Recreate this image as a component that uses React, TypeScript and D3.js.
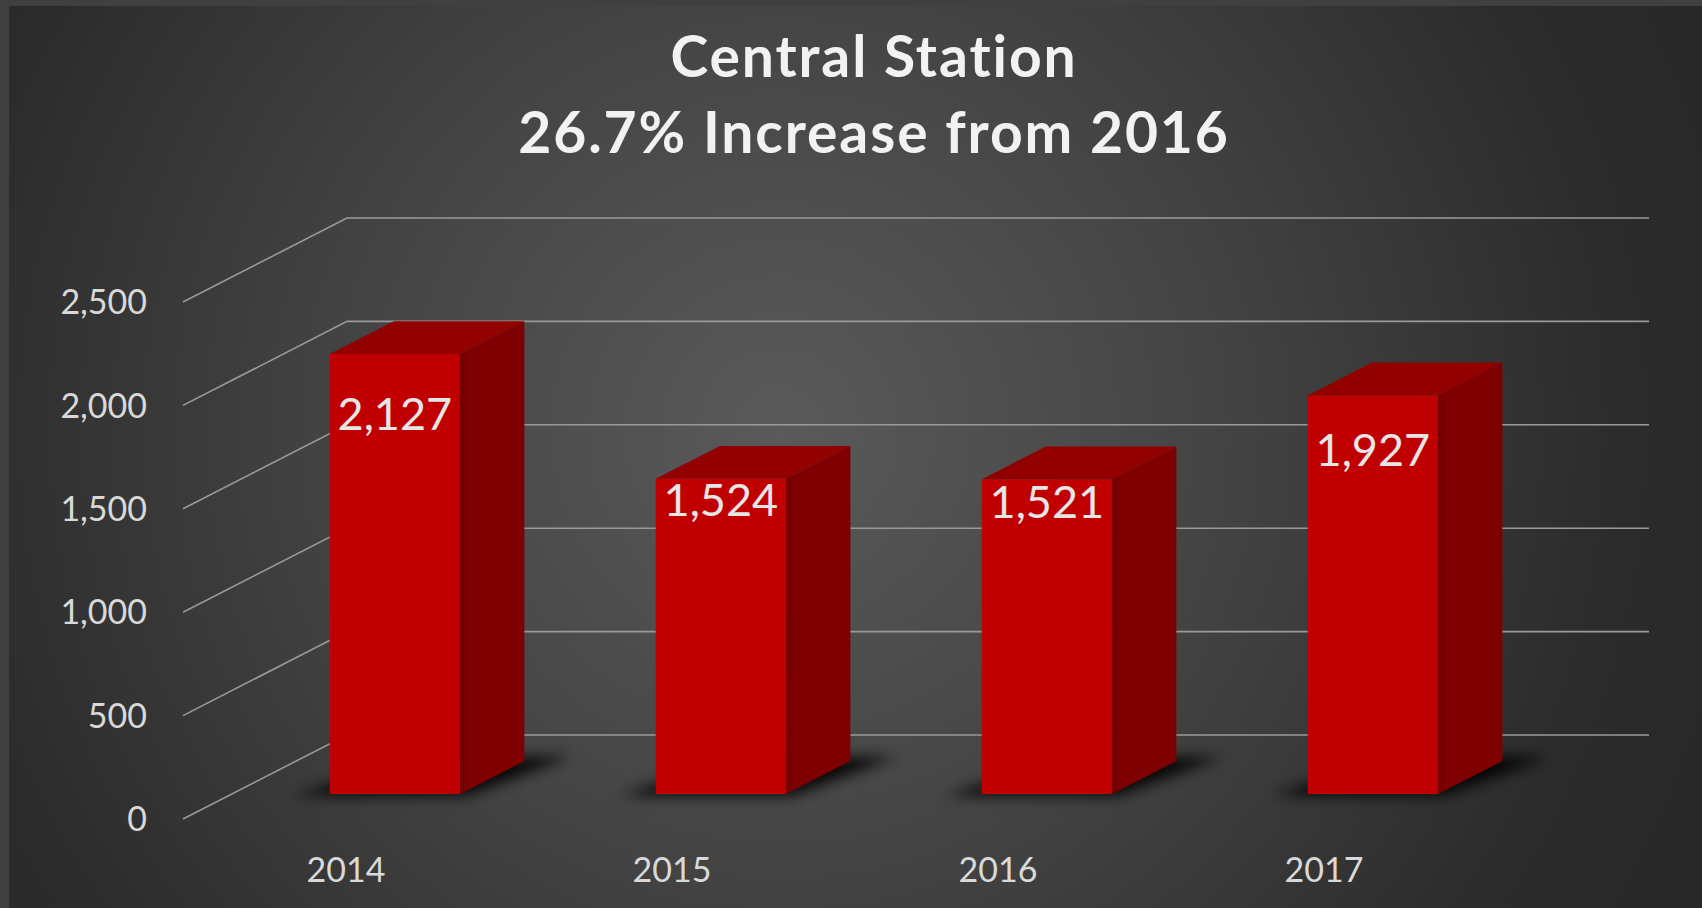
import React from "react";
import * as d3 from "d3";

const years = ["2014", "2015", "2016", "2017"];
const values = [2127, 1524, 1521, 1927];
const yTicks = [0, 500, 1000, 1500, 2000, 2500];
const titleLines = ["Central Station", "26.7% Increase from 2016"];

// layout constants
const W = 1702;
const H = 908;
const FLOOR_FRONT_Y = 819;
const DX = 164; // full depth x offset
const DY = 84; // full depth y offset
const D1 = 0.298; // bar front depth
const D2 = 0.69; // bar back depth
const labelBaselineDrop = [76, 37, 39, 71];

export default function App() {
  const x = d3
    .scaleBand<string>()
    .domain(years)
    .range([183, 1487])
    .paddingInner(0.6)
    .paddingOuter(0.3);
  const y = d3.scaleLinear().domain([0, 2500]).range([0, 517]);
  const fmt = d3.format(",");

  const proj = (u: number, v: number, d: number): [number, number] => [
    u + d * DX,
    FLOOR_FRONT_Y - y(v) - d * DY,
  ];
  const pts = (arr: [number, number][]) => arr.map((p) => p.join(",")).join(" ");

  const leftX = 183;
  const rightBackX = 1649;

  return (
    <div>
      <style>{"body{margin:0;background:#2a2a2a}"}</style>
      <svg width={W} height={H} style={{ display: "block" }} fontFamily="Lato, 'Open Sans', sans-serif">
        <defs>
          <radialGradient id="bg" gradientUnits="userSpaceOnUse" cx={780} cy={430} r={1000}>
            <stop offset="0" stopColor="#5a5a5a" />
            <stop offset="0.45" stopColor="#434343" />
            <stop offset="0.85" stopColor="#2b2b2b" />
            <stop offset="1" stopColor="#282828" />
          </radialGradient>
          <filter id="shadow" x="-50%" y="-50%" width="200%" height="200%">
            <feGaussianBlur stdDeviation="7" />
          </filter>
          <linearGradient id="side" x1="0" x2="1" y1="0" y2="0">
            <stop offset="0" stopColor="#700000" />
            <stop offset="0.12" stopColor="#7e0000" />
            <stop offset="1" stopColor="#7e0000" />
          </linearGradient>
        </defs>
        <rect x={0} y={0} width={W} height={H} fill="#404040" />
        <rect x={9} y={6} width={W - 9} height={H - 6} fill="url(#bg)" />

        {/* title */}
        {titleLines.map((t, i) => (
          <text
            key={t}
            x={874}
            y={77 + i * 76}
            textAnchor="middle"
            fontSize={57}
            fontWeight={700}
            letterSpacing={1.9}
            fill="#f2f2f2"
          >
            {t}
          </text>
        ))}

        {/* gridlines: side wall diagonals and back wall */}
        {yTicks.map((v) => {
          const front = proj(leftX, v, 0);
          const back = proj(leftX, v, 1);
          return (
            <g key={v} stroke="#9a9a9a" strokeWidth={1.6} fill="none">
              <polyline points={pts([front, back, [rightBackX, back[1]]])} />
            </g>
          );
        })}

        {/* y axis labels */}
        {yTicks.map((v) => (
          <text
            key={"t" + v}
            x={147}
            y={proj(leftX, v, 0)[1]}
            dy="0.36em"
            textAnchor="end"
            fontSize={34}
            fill="#d9d9d9"
          >
            {fmt(v)}
          </text>
        ))}

        {/* shadows */}
        {years.map((yr) => {
          const u0 = x(yr)!;
          const u1 = u0 + x.bandwidth();
          const p = [
            proj(u0 - 32, 0, D1 - 0.02),
            proj(u1 + 10, 0, D1 - 0.02),
            proj(u1 + 38, 0, D2 + 0.05),
            proj(u0 + 10, 0, D2 + 0.05),
          ] as [number, number][];
          return (
            <polygon key={"s" + yr} points={pts(p)} fill="#000" opacity={0.88} filter="url(#shadow)" />
          );
        })}

        {/* bars */}
        {years.map((yr, i) => {
          const v = values[i];
          const u0 = x(yr)!;
          const u1 = u0 + x.bandwidth();
          const front = [proj(u0, v, D1), proj(u1, v, D1), proj(u1, 0, D1), proj(u0, 0, D1)] as [number, number][];
          const top = [proj(u0, v, D1), proj(u1, v, D1), proj(u1, v, D2), proj(u0, v, D2)] as [number, number][];
          const side = [proj(u1, v, D1), proj(u1, v, D2), proj(u1, 0, D2), proj(u1, 0, D1)] as [number, number][];
          return (
            <g key={yr}>
              <polygon points={pts(side)} fill="url(#side)" />
              <polygon points={pts(top)} fill="#930000" />
              <polygon points={pts(front)} fill="#c00000" />
            </g>
          );
        })}

        {/* value labels */}
        {years.map((yr, i) => {
          const v = values[i];
          const cx = x(yr)! + x.bandwidth() / 2 + D1 * DX;
          const topY = proj(0, v, D1)[1];
          return (
            <text
              key={"l" + yr}
              x={cx}
              y={topY + labelBaselineDrop[i]}
              textAnchor="middle"
              fontSize={45}
              fill="#e6e6e6"
            >
              {fmt(v)}
            </text>
          );
        })}

        {/* category labels */}
        {years.map((yr) => (
          <text
            key={"c" + yr}
            x={x(yr)! + x.bandwidth() / 2}
            y={882}
            textAnchor="middle"
            fontSize={34}
            fill="#d9d9d9"
          >
            {yr}
          </text>
        ))}
      </svg>
    </div>
  );
}
